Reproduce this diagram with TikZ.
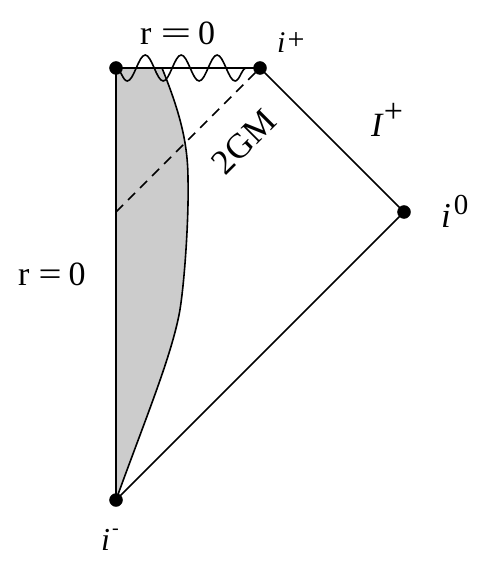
\documentclass[tikz,border=0pt]{standalone}
\usepackage{fontspec}
\setmainfont{Liberation Serif}
\usetikzlibrary{decorations.pathmorphing}

\newcommand{\up}[2]{\raisebox{#1}{#2}}

\begin{document}
\begin{tikzpicture}[x=1pt, y=-1pt]
        \tikzset{
            point/.style={draw, shape = circle, fill, inner sep=0pt, minimum size=13pt},
            boundary/.style={line width=1.6pt},
            tag/.style={anchor=base west, inner sep=0pt, font=\fontsize{34}{38}\selectfont}
        }
        \useasboundingbox (0,0) rectangle (490,569);
        \coordinate (O) at (116,68);
        \coordinate (ip) at (260,68);
        \coordinate (izero) at (404,212);
        \coordinate (im) at (116,500);
        \coordinate (H) at (116,212);
        % collapsing star
        \draw[boundary, fill=gray!40] (im) .. controls (145,420) and (170,360) .. (179,315)
            .. controls (184,290) and (189,220) .. (188,180)
            .. controls (188,145) and (181,115) .. (162,68) -- (O) -- cycle;
        \path (O) edge [boundary] node {} (im);
        \path (O) edge [boundary] node {} (ip);
        \path (ip) edge [boundary] node {} (izero);
        \path (izero) edge [boundary] node {} (im);
        \path (H) edge [boundary, dashed, dash pattern=on 10pt off 7pt] node {} (ip);
        \draw[boundary, decorate, decoration={snake, segment length=35.95pt, amplitude=-13pt}] (O) -- (ip);
        \node[point] (P1) at (O) {};
        \node[point] (P2) at (ip) {};
        \node[point] (P3) at (izero) {};
        \node[point] (P4) at (im) {};
        % labels
        \node[tag] (rtop) at (140,45) {r\hspace{9pt}\scalebox{1.6}[1]{=}\hspace{7pt}0};
        \node[tag] (rleft) at (18,285) {r\hspace{9pt}\scalebox{1.2}[1]{=}\hspace{7pt}0};
        \node[tag, font=\fontsize{30}{34}\selectfont] (lip) at (277,53) {\textit{i}\hspace{2pt}\up{0.13em}{+}};
        \node[tag] (lscri) at (371,137) {\textit{I}\up{0.42em}{+}};
        \node[tag, font=\fontsize{35}{38}\selectfont] (lizero) at (441,227) {\textit{i}\hspace{3pt}\up{0.35em}{\fontsize{29}{30}\selectfont 0}};
        \node[tag, font=\fontsize{32}{34}\selectfont] (lim) at (101,550) {\textit{i}\hspace{2pt}\up{0.5em}{\fontsize{20}{20}\selectfont -}};
        \node[rotate=45, inner sep=0pt, font=\fontsize{35}{38}\selectfont] (horizon) at (244,142) {2GM};
    \end{tikzpicture}
\end{document}
